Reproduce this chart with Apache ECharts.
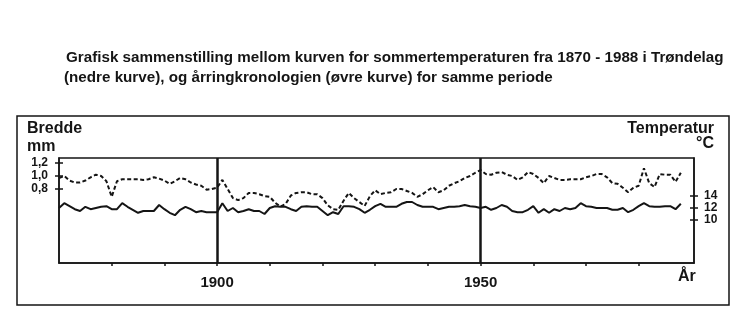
<!DOCTYPE html>
<html>
<head>
<meta charset="utf-8">
<script src="https://cdn.jsdelivr.net/npm/echarts@6/dist/echarts.min.js"></script>
<style>
html,body{margin:0;padding:0;background:#fff;}
#c{width:750px;height:330px;}
</style>
</head>
<body>
<div id="c"></div>
<script>
// Ring width chronology (upper, dashed curve), mm, 1870-1988
const ringWidth = [
0.97,1.00,0.93,0.90,0.90,0.93,0.98,1.02,1.00,0.92,
0.68,0.92,0.95,0.95,0.95,0.95,0.94,0.95,0.98,0.96,
0.93,0.88,0.92,0.97,0.95,0.90,0.87,0.85,0.79,0.80,
0.82,0.94,0.80,0.66,0.63,0.66,0.74,0.74,0.72,0.69,
0.68,0.59,0.53,0.57,0.70,0.74,0.75,0.75,0.72,0.72,
0.66,0.55,0.49,0.48,0.62,0.74,0.66,0.60,0.54,0.69,
0.78,0.72,0.74,0.75,0.80,0.80,0.77,0.74,0.68,0.72,
0.78,0.83,0.75,0.78,0.85,0.89,0.92,0.97,1.00,1.05,
1.09,1.03,1.02,1.05,1.06,1.02,1.00,0.94,0.98,1.06,
1.03,0.97,0.89,1.00,0.97,0.94,0.94,0.95,0.95,0.95,
0.98,1.00,1.03,1.03,0.98,0.89,0.88,0.82,0.75,0.82,
0.85,1.12,0.89,0.83,1.03,1.02,1.02,0.91,1.05
];
// Summer temperature in Trøndelag (lower, solid curve), °C, 1870-1988
const summerTemp = [
12.0,12.8,12.3,11.8,11.5,12.2,11.8,12.0,12.2,12.3,
11.8,11.8,12.8,12.2,11.7,11.2,11.5,11.5,11.5,12.5,
11.8,11.2,10.8,11.7,12.2,11.8,11.3,11.5,11.3,11.3,
11.3,12.8,11.5,12.0,11.3,11.5,11.8,11.5,11.5,11.0,
12.0,12.3,12.2,12.2,11.8,11.5,12.2,12.3,12.2,12.2,
11.5,10.8,11.3,11.0,12.3,12.3,12.2,11.8,11.2,11.7,
12.3,12.7,12.2,12.2,12.2,12.7,13.0,13.0,12.5,12.2,
12.2,12.2,11.8,12.0,12.2,12.2,12.3,12.5,12.3,12.2,
12.0,12.2,11.7,12.0,12.5,12.2,11.5,11.3,11.3,11.7,
12.3,11.2,11.8,11.2,11.8,11.5,12.0,11.8,12.0,12.8,
12.3,12.2,12.0,12.0,12.0,11.7,11.7,12.0,11.3,11.7,
12.3,12.8,12.3,12.2,12.2,12.3,12.3,11.8,12.7
];
const firstYear = 1870;
const years = ringWidth.map((_, i) => firstYear + i);
const xTickYears = [1880,1890,1900,1910,1920,1930,1940,1950,1960,1970,1980];
const xLabelYears = [1900,1950];
const markYears = [1900,1950];
const leftTicks = [0.8,1.0,1.2];
const rightTicks = [10,12,14];

const FONT = '"Liberation Sans", Arial, sans-serif';
const INK = '#151515';

const chart = echarts.init(document.getElementById('c'), null, {renderer:'canvas'});

function yAx(pos, min, max, ticks, inside, showLabel, fmt, margin) {
  return {
    type:'value', position:pos, min:min, max:max,
    splitLine:{show:false},
    axisLine:{show:!inside, onZero:false, lineStyle:{color:INK, width:1.5}},
    axisTick:{show:true, inside:inside, length:4, lineStyle:{color:INK, width:1.5}, customValues:ticks},
    axisLabel:{show:showLabel, customValues:ticks, formatter:fmt, margin:margin,
      fontFamily:FONT, fontWeight:'bold', fontSize:12, color:INK}
  };
}

const option = {
  animation:false,
  backgroundColor:'#fff',
  grid:{left:59, right:56, top:158, bottom:67, show:true, borderColor:INK, borderWidth:1.5, backgroundColor:'transparent'},
  xAxis:{
    type:'value', min:1870, max:1990.5,
    splitLine:{show:false},
    axisLine:{onZero:false, lineStyle:{color:INK, width:1.5}},
    axisTick:{show:true, length:3, lineStyle:{color:INK, width:1.5}, customValues:xTickYears},
    axisLabel:{customValues:xLabelYears, formatter:v => String(v), margin:12, fontFamily:FONT, fontWeight:'bold', fontSize:15, color:INK}
  },
  yAxis:[
    yAx('left', -0.338, 1.277, leftTicks, false, true, v => v.toFixed(1).replace('.', ','), 11),
    yAx('right', 2.833, 20.333, rightTicks, false, true, v => String(v), 10),
    yAx('left', -0.338, 1.277, leftTicks, true, false, null, 0),
    yAx('right', 2.833, 20.333, rightTicks, true, false, null, 0)
  ],
  series:[
    {
      type:'line', yAxisIndex:0, data:years.map((y,i)=>[y, ringWidth[i]]),
      showSymbol:false, symbol:'none', smooth:false,
      lineStyle:{color:INK, width:2, type:[4,2.5]},
      markLine:{
        silent:true, symbol:['none','none'], label:{show:false},
        lineStyle:{color:INK, width:2.5, type:'solid'},
        data: markYears.map(y => ({xAxis:y}))
      }
    },
    {
      type:'line', yAxisIndex:1, data:years.map((y,i)=>[y, summerTemp[i]]),
      showSymbol:false, symbol:'none', smooth:false,
      lineStyle:{color:INK, width:2}
    }
  ],
  graphic:[
    {type:'rect', shape:{x:17, y:116, width:712, height:189}, style:{fill:'none', stroke:INK, lineWidth:1.5}, silent:true},
    {type:'text', x:66, y:58, style:{text:'Grafisk sammenstilling mellom kurven for sommertemperaturen fra 1870 - 1988 i Trøndelag', font:'bold 15.2px '+FONT, fill:INK, textVerticalAlign:'middle'}},
    {type:'text', x:64, y:78, style:{text:'(nedre kurve), og årringkronologien (øvre kurve) for samme periode', font:'bold 15.2px '+FONT, fill:INK, textVerticalAlign:'middle'}},
    {type:'text', x:27, y:129, style:{text:'Bredde', font:'bold 16px '+FONT, fill:INK, textVerticalAlign:'middle'}},
    {type:'text', x:27, y:147, style:{text:'mm', font:'bold 16px '+FONT, fill:INK, textVerticalAlign:'middle'}},
    {type:'text', x:714, y:129, style:{text:'Temperatur', font:'bold 16px '+FONT, fill:INK, textAlign:'right', textVerticalAlign:'middle'}},
    {type:'text', x:714, y:144, style:{text:'°C', font:'bold 16px '+FONT, fill:INK, textAlign:'right', textVerticalAlign:'middle'}},
    {type:'text', x:678, y:277, style:{text:'År', font:'bold 16px '+FONT, fill:INK, textVerticalAlign:'middle'}}
  ]
};
chart.setOption(option);
</script>
</body>
</html>
